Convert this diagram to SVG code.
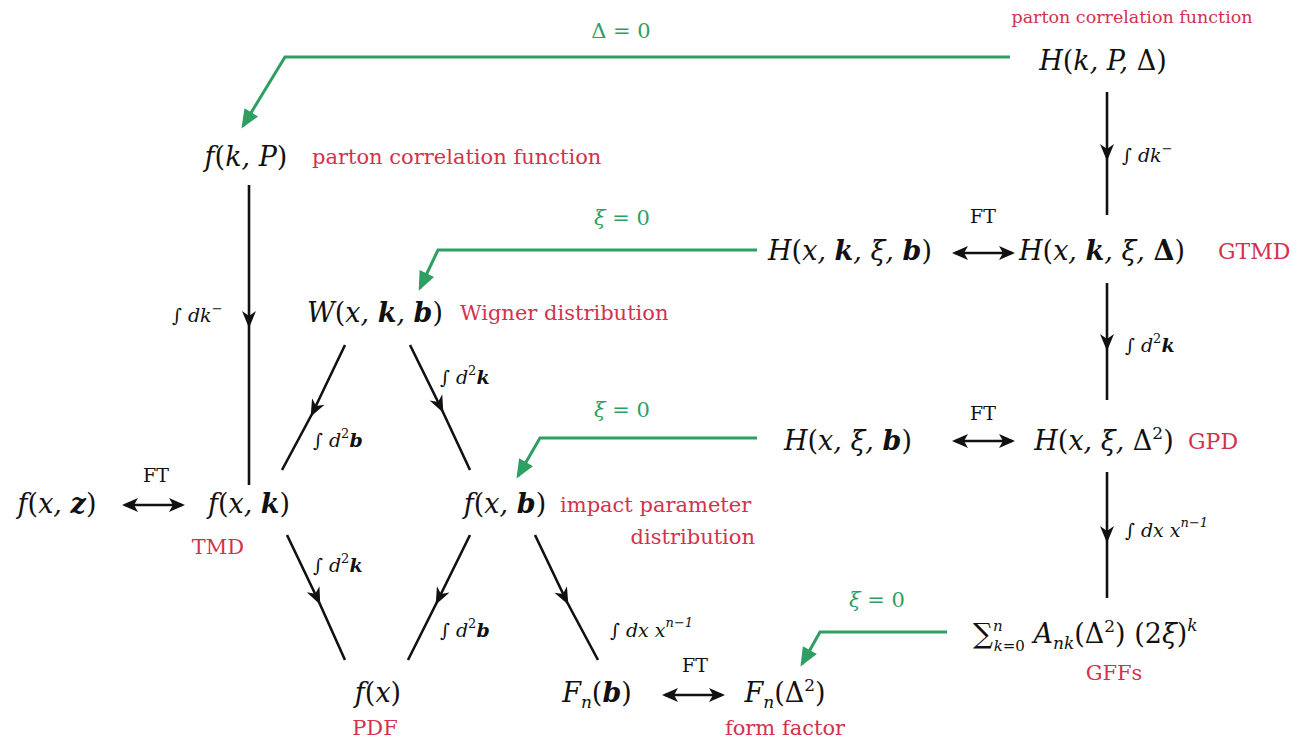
<svg xmlns="http://www.w3.org/2000/svg" width="1301" height="740" viewBox="0 0 1301 740">
<defs>
<marker id="mid" viewBox="-16 -9 19 18" markerWidth="19" markerHeight="18" refX="0" refY="0" orient="auto" markerUnits="userSpaceOnUse">
<path d="M3,0 L-14,-7 L-9,0 L-14,7 Z" fill="#111"/>
</marker>
<marker id="dbl" viewBox="-16 -9 19 18" markerWidth="19" markerHeight="18" refX="0" refY="0" orient="auto-start-reverse" markerUnits="userSpaceOnUse">
<path d="M3,0 L-13,-7 L-9,0 L-13,7 Z" fill="#111"/>
</marker>
<marker id="grn" viewBox="-18 -10 21 20" markerWidth="21" markerHeight="20" refX="0" refY="0" orient="auto" markerUnits="userSpaceOnUse">
<path d="M3,0 L-16,-8 L-16,8 Z" fill="#2e9e62"/>
</marker>
</defs>
<style>
text{font-family:'DejaVu Serif','Liberation Serif',serif}
.m{font-style:italic;font-size:27px;fill:#111}
.r{font-size:21px;fill:#d2324e}
.rs{font-size:17.5px}
.rl{font-size:22px}
.g{font-size:21px;fill:#2e9e62}
.l{font-style:italic;font-size:19px;fill:#111}
.ft{font-size:19px;fill:#111}
.b{font-weight:bold}
.u{font-style:normal}
.blk{stroke:#111;stroke-width:2.6;fill:none}
.gr{stroke:#2e9e62;stroke-width:3;fill:none}
</style>
<rect width="1301" height="740" fill="#fff"/>
<g id="connectors">
<path class="blk" d="M1107,92 L1107,158 L1107,215" marker-mid="url(#mid)"/>
<path class="blk" d="M1107,283 L1107,348 L1107,400" marker-mid="url(#mid)"/>
<path class="blk" d="M1107,472 L1107,540 L1107,598" marker-mid="url(#mid)"/>
<path class="blk" d="M249,185 L249,325 L249,485" marker-mid="url(#mid)"/>
<path class="blk" d="M345,345 L312,414 L282,470" marker-mid="url(#mid)"/>
<path class="blk" d="M410,345 L442,410 L470,470" marker-mid="url(#mid)"/>
<path class="blk" d="M287,535 L319,602 L345,660" marker-mid="url(#mid)"/>
<path class="blk" d="M470,535 L437,602 L408,660" marker-mid="url(#mid)"/>
<path class="blk" d="M535,535 L567,602 L598,660" marker-mid="url(#mid)"/>
<line class="blk" x1="955" y1="253" x2="1012" y2="253" marker-start="url(#dbl)" marker-end="url(#dbl)"/>
<line class="blk" x1="955" y1="441" x2="1012" y2="441" marker-start="url(#dbl)" marker-end="url(#dbl)"/>
<line class="blk" x1="125" y1="505" x2="182" y2="505" marker-start="url(#dbl)" marker-end="url(#dbl)"/>
<line class="blk" x1="665" y1="695" x2="722" y2="695" marker-start="url(#dbl)" marker-end="url(#dbl)"/>
<path class="gr" d="M1010,57 L285,57 L243,126" marker-end="url(#grn)"/>
<path class="gr" d="M757,250 L438,250 L420,288" marker-end="url(#grn)"/>
<path class="gr" d="M757,438 L540,438 L518,476" marker-end="url(#grn)"/>
<path class="gr" d="M947,632 L820,632 L802,664" marker-end="url(#grn)"/>
</g>
<g id="labels">
<text class="g" x="621" y="38" text-anchor="middle">Δ = 0</text>
<text class="g" x="622" y="225" text-anchor="middle"><tspan font-style="italic">ξ</tspan> = 0</text>
<text class="g" x="622" y="417" text-anchor="middle"><tspan font-style="italic">ξ</tspan> = 0</text>
<text class="g" x="877" y="607" text-anchor="middle"><tspan font-style="italic">ξ</tspan> = 0</text>
<text class="l" x="1122" y="162">∫ dk<tspan font-size="13" dy="-9">−</tspan></text>
<text class="l" x="172" y="322">∫ dk<tspan font-size="13" dy="-9">−</tspan></text>
<text class="l" x="1125" y="352">∫ d<tspan class="u" font-size="13" dy="-9">2</tspan><tspan class="b" dy="9">k</tspan></text>
<text class="l" x="440" y="384">∫ d<tspan class="u" font-size="13" dy="-9">2</tspan><tspan class="b" dy="9">k</tspan></text>
<text class="l" x="313" y="447">∫ d<tspan class="u" font-size="13" dy="-9">2</tspan><tspan class="b" dy="9">b</tspan></text>
<text class="l" x="313" y="572">∫ d<tspan class="u" font-size="13" dy="-9">2</tspan><tspan class="b" dy="9">k</tspan></text>
<text class="l" x="440" y="637">∫ d<tspan class="u" font-size="13" dy="-9">2</tspan><tspan class="b" dy="9">b</tspan></text>
<text class="l" x="1125" y="537">∫ dx x<tspan font-size="13" dy="-10">n−1</tspan></text>
<text class="l" x="610" y="637">∫ dx x<tspan font-size="13" dy="-10">n−1</tspan></text>
<text class="ft" x="983" y="223" text-anchor="middle">FT</text>
<text class="ft" x="983" y="420" text-anchor="middle">FT</text>
<text class="ft" x="156" y="482" text-anchor="middle">FT</text>
<text class="ft" x="695" y="672" text-anchor="middle">FT</text>
</g>
<g id="n-HkPD">
<text class="r rs" x="1132" y="23" text-anchor="middle">parton correlation function</text>
<text class="m" x="1103" y="70" text-anchor="middle">H<tspan class="u">(</tspan>k, P, <tspan class="u">Δ)</tspan></text>
</g>
<g id="n-fkP">
<text class="m" x="246" y="166" text-anchor="middle">f<tspan class="u">(</tspan>k, P<tspan class="u">)</tspan></text>
<text class="r" x="312" y="164">parton correlation function</text>
</g>
<g id="n-Hxkxb">
<text class="m" x="850" y="260" text-anchor="middle">H<tspan class="u">(</tspan>x, <tspan class="b">k</tspan>, ξ, <tspan class="b">b</tspan><tspan class="u">)</tspan></text>
</g>
<g id="n-GTMD">
<text class="m" x="1102" y="260" text-anchor="middle">H<tspan class="u">(</tspan>x, <tspan class="b">k</tspan>, ξ, <tspan class="u b">Δ</tspan><tspan class="u">)</tspan></text>
<text class="r rl" x="1218" y="259">GTMD</text>
</g>
<g id="n-W">
<text class="m" x="375" y="322" text-anchor="middle">W<tspan class="u">(</tspan>x, <tspan class="b">k</tspan>, <tspan class="b">b</tspan><tspan class="u">)</tspan></text>
<text class="r" x="460" y="320">Wigner distribution</text>
</g>
<g id="n-Hxxb">
<text class="m" x="848" y="450" text-anchor="middle">H<tspan class="u">(</tspan>x, ξ, <tspan class="b">b</tspan><tspan class="u">)</tspan></text>
</g>
<g id="n-GPD">
<text class="m" x="1104" y="450" text-anchor="middle">H<tspan class="u">(</tspan>x, ξ, <tspan class="u">Δ</tspan><tspan class="u" font-size="17" dy="-11">2</tspan><tspan class="u" dy="11">)</tspan></text>
<text class="r rl" x="1188" y="449">GPD</text>
</g>
<g id="n-fxz">
<text class="m" x="57" y="513" text-anchor="middle">f<tspan class="u">(</tspan>x, <tspan class="b">z</tspan><tspan class="u">)</tspan></text>
</g>
<g id="n-TMD">
<text class="m" x="249" y="513" text-anchor="middle">f<tspan class="u">(</tspan>x, <tspan class="b">k</tspan><tspan class="u">)</tspan></text>
<text class="r" x="218" y="554" text-anchor="middle">TMD</text>
</g>
<g id="n-fxb">
<text class="m" x="505" y="513" text-anchor="middle">f<tspan class="u">(</tspan>x, <tspan class="b">b</tspan><tspan class="u">)</tspan></text>
<text class="r" x="560" y="512">impact parameter</text>
<text class="r" x="755" y="544" text-anchor="end">distribution</text>
</g>
<g id="n-GFF">
<text class="m" x="973" y="643"><tspan class="u" font-size="28">∑</tspan><tspan font-size="15" dy="-12">n</tspan><tspan font-size="15" dx="-9" dy="20">k</tspan><tspan class="u" font-size="15">=0</tspan><tspan dy="-8"> A</tspan><tspan font-size="17" dy="6">nk</tspan><tspan class="u" dy="-6">(Δ</tspan><tspan class="u" font-size="17" dy="-11">2</tspan><tspan class="u" dy="11">) (2</tspan>ξ<tspan class="u">)</tspan><tspan font-size="17" dy="-12">k</tspan></text>
<text class="r" x="1114" y="680" text-anchor="middle">GFFs</text>
</g>
<g id="n-PDF">
<text class="m" x="378" y="702" text-anchor="middle">f<tspan class="u">(</tspan>x<tspan class="u">)</tspan></text>
<text class="r" x="375" y="735" text-anchor="middle">PDF</text>
</g>
<g id="n-Fnb">
<text class="m" x="597" y="702" text-anchor="middle">F<tspan font-size="17" dy="6">n</tspan><tspan class="u" dy="-6">(</tspan><tspan class="b">b</tspan><tspan class="u">)</tspan></text>
</g>
<g id="n-FF">
<text class="m" x="785" y="702" text-anchor="middle">F<tspan font-size="17" dy="6">n</tspan><tspan class="u" dy="-6">(Δ</tspan><tspan class="u" font-size="17" dy="-11">2</tspan><tspan class="u" dy="11">)</tspan></text>
<text class="r" x="785" y="735" text-anchor="middle">form factor</text>
</g>
</svg>
